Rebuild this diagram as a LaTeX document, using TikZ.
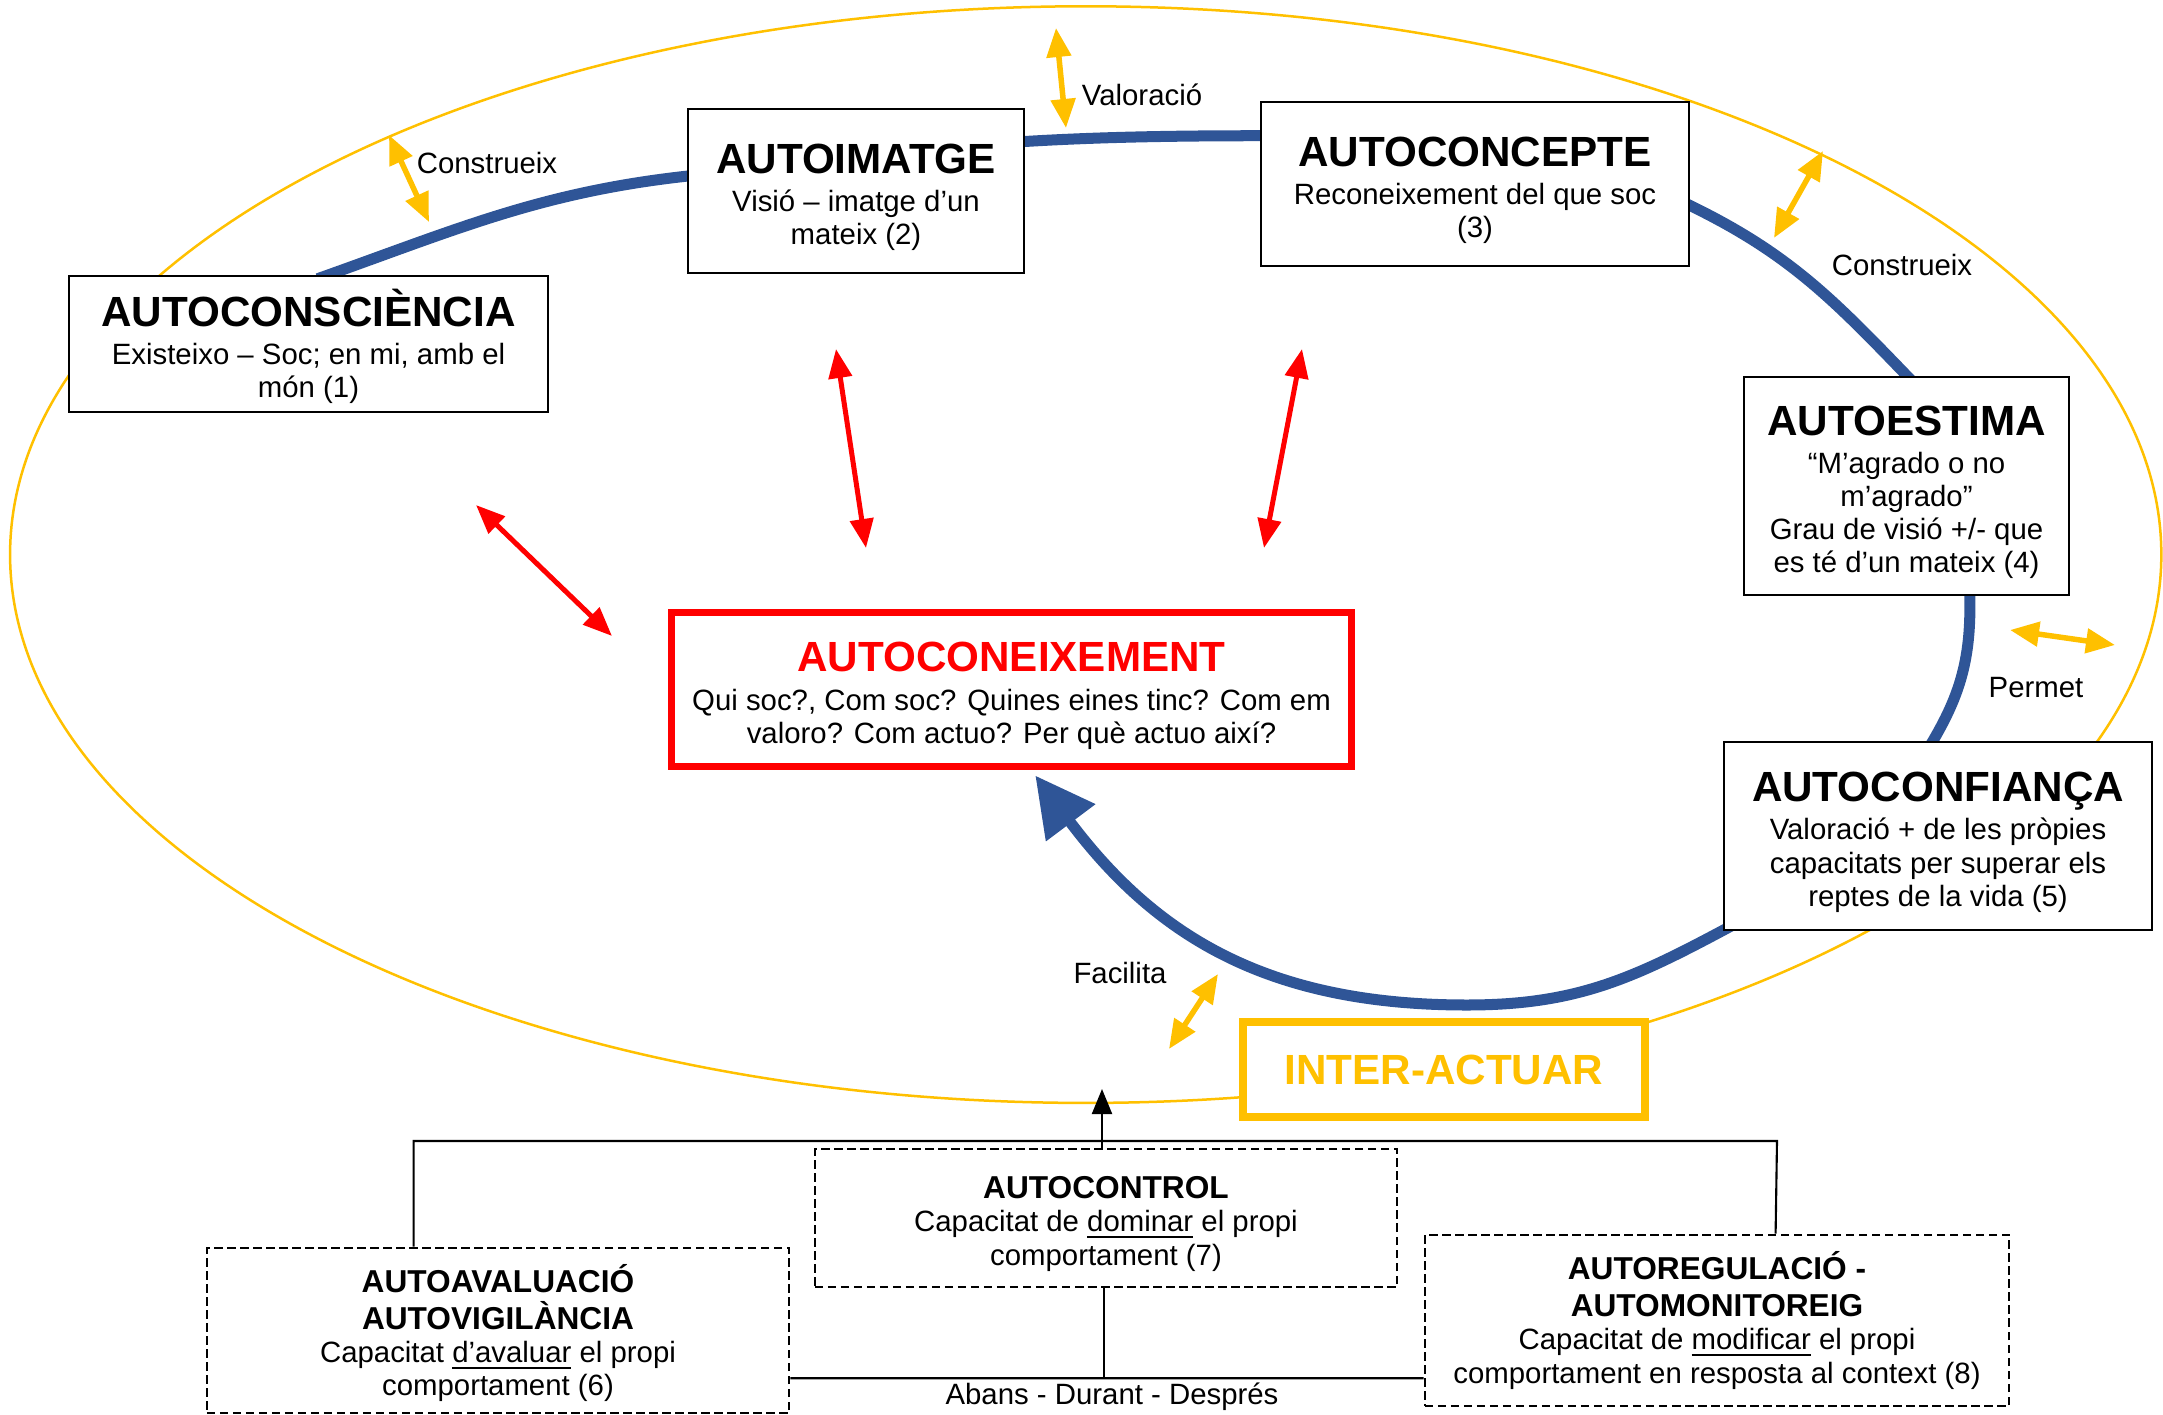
\documentclass[tikz,border=0pt]{standalone}
\usepackage{fontspec}
\setmainfont{Liberation Sans}
\usetikzlibrary{arrows.meta,calc}
\definecolor{loopblue}{HTML}{2F5597}
\definecolor{ringgold}{HTML}{FFC000}
\definecolor{keyred}{HTML}{FF0000}
\newcommand{\bodysize}{\fontsize{8.35}{9.45}\selectfont}
\newcommand{\ttlplain}[1]{{\fontsize{12}{12}\selectfont\bfseries #1}}
\newcommand{\ttl}[1]{{\fontsize{12}{12}\selectfont\bfseries\rule{0pt}{12pt}#1}}
\newcommand{\subttl}[1]{{\fontsize{9}{9}\selectfont\bfseries #1}}
\newcommand{\subttlup}[1]{{\fontsize{9}{9}\selectfont\bfseries\rule{0pt}{9.6pt}#1}}
\pgfdeclarelayer{back}
\pgfsetlayers{back,main}

\begin{document}
\begin{tikzpicture}[x=0.01cm,y=-0.01cm,
  box/.style={draw=black, line width=0.7pt, fill=white, inner sep=0pt, align=center, font=\bodysize},
  dbox/.style={box, dash pattern=on 0.085cm off 0.045cm},
  loopline/.style={draw=loopblue, line width=0.11cm},
  redarrow/.style={draw=keyred, fill=keyred, line width=0.05cm,
    {Triangle[length=0.29cm,width=0.23cm]}-{Triangle[length=0.29cm,width=0.23cm]}},
  goldarrow/.style={draw=ringgold, fill=ringgold, line width=0.055cm,
    {Triangle[length=0.29cm,width=0.24cm]}-{Triangle[length=0.29cm,width=0.24cm]}},
  conn/.style={draw=black, line width=0.6pt},
  lbl/.style={font=\bodysize, inner sep=0pt}
]
\useasboundingbox (0,0) rectangle (2163,1415);

% concept boxes
\node[box, minimum width=4.79cm, minimum height=1.36cm] (cons) at (308.5,344)
  {\ttl{AUTOCONSCIÈNCIA}\\[1.4pt] Existeixo – Soc; en mi, amb el\\ món (1)};
\node[box, minimum width=3.36cm, minimum height=1.64cm] (imat) at (856,191)
  {\ttl{AUTOIMATGE}\\[1.4pt] Visió – imatge d’un\\ mateix (2)};
\node[box, minimum width=4.28cm, minimum height=1.64cm] (conc) at (1475,184)
  {\ttl{AUTOCONCEPTE}\\[1.4pt] Reconeixement del que soc\\ (3)};
\node[box, minimum width=3.25cm, minimum height=2.18cm] (esti) at (1906.5,486)
  {\ttl{AUTOESTIMA}\\[1.4pt] “M’agrado o no\\ m’agrado”\\ Grau de visió +/- que\\ es té d’un mateix (4)};
\node[box, minimum width=4.28cm, minimum height=1.88cm] (conf) at (1938,836)
  {\ttl{AUTOCONFIANÇA}\\[1.4pt] Valoració + de les pròpies\\ capacitats per superar els\\ reptes de la vida (5)};
\node[box, draw=keyred, line width=0.07cm, minimum width=6.80cm, minimum height=1.54cm] (acon) at (1011.5,689.5)
  {\textcolor{keyred}{\ttl{AUTOCONEIXEMENT}}\\[1.4pt] Qui soc?, Com soc? Quines eines tinc? Com em\\ valoro? Com actuo? Per què actuo així?};
\node[box, draw=ringgold, line width=0.08cm, minimum width=4.02cm, minimum height=0.95cm] (inter) at (1444,1069.5)
  {\textcolor{ringgold}{\ttlplain{INTER-ACTUAR}}};

% dashed boxes
\node[dbox, minimum width=5.82cm, minimum height=1.38cm] (ctrl) at (1106,1218)
  {\subttlup{AUTOCONTROL}\\ Capacitat de \underline{dominar} el propi\\ comportament (7)};
\node[dbox, minimum width=5.82cm, minimum height=1.65cm] (aval) at (498,1330.5)
  {\subttlup{AUTOAVALUACIÓ}\\[1pt] \subttl{AUTOVIGILÀNCIA}\\ Capacitat \underline{d’avaluar} el propi\\ comportament (6)};
\node[dbox, minimum width=5.84cm, minimum height=1.71cm] (regu) at (1717,1320.5)
  {\subttl{AUTOREGULACIÓ -}\\[1pt] \subttl{AUTOMONITOREIG}\\ Capacitat de \underline{modificar} el propi\\ comportament en resposta al context (8)};

% outer ring and the blue loop
\coordinate (loopbottom) at (1467,1005);
\begin{pgfonlayer}{back}
\draw[ringgold, line width=0.025cm] (1085.7,554.6) ellipse [x radius=10.75cm, y radius=5.48cm];
\draw[loopline] ($(cons.north west)+(250,4)$) .. controls +(141,-50) and +(-149,16) .. ($(imat.north west)+(4,68)$);
\draw[loopline] ($(imat.north east)+(-4,34)$) .. controls +(80,-5) and +(-80,0) .. ($(conc.north west)+(4,35)$);
\draw[loopline] ($(conc.north east)+(-4,103)$) .. controls +(102,49) and +(-78,-81) .. ($(esti.north west)+(168,4)$);
\draw[loopline] ($(esti.south west)+(227,-4)$) .. controls +(2,65) and +(30,-50) .. ($(conf.north west)+(208,4)$);
\draw[loopline, -{Triangle[length=0.59cm,width=0.59cm]}] ($(conf.south west)+(8,-5)$)
  .. controls +(-97,52) and +(110,0) .. (loopbottom)
  .. controls +(-200,0) and +(120,160) .. ($(acon.south west)+(367.5,5.5)$);
\end{pgfonlayer}

% red links towards self-knowledge
\coordinate (r1a) at (476,505);  \coordinate (r1b) at (612,636);
\coordinate (r2a) at (836,349);  \coordinate (r2b) at (866,548);
\coordinate (r3a) at (1302,349); \coordinate (r3b) at (1264,548);
\draw[redarrow] (r1a) -- (r1b);
\draw[redarrow] (r2a) -- (r2b);
\draw[redarrow] (r3a) -- (r3b);

% gold links between ring and loop
\coordinate (y1a) at (389,135);  \coordinate (y1b) at (429,222);
\coordinate (y2a) at (1056,28);  \coordinate (y2b) at (1066,128);
\coordinate (y3a) at (1823,151); \coordinate (y3b) at (1774,238);
\coordinate (y4a) at (2010,630); \coordinate (y4b) at (2115,645);
\coordinate (y5a) at (1218,974); \coordinate (y5b) at (1169,1049);
\draw[goldarrow] (y1a) -- (y1b);
\draw[goldarrow] (y2a) -- (y2b);
\draw[goldarrow] (y3a) -- (y3b);
\draw[goldarrow] (y4a) -- (y4b);
\draw[goldarrow] (y5a) -- (y5b);

% link labels
\node[lbl] (l1) at (487,163) {Construeix};
\node[lbl] (l2) at (1142,95) {Valoració};
\node[lbl] (l3) at (1902,265) {Construeix};
\node[lbl] (l4) at (2036,688) {Permet};
\node[lbl] (l5) at (1120,973) {Facilita};

% bottom connectors
\coordinate (ctip) at (1102,1089);
\draw[conn] ($(aval.north west)+(208,0)$) |- (1777,1141) -- ($(regu.north west)+(352,0)$);
\draw[conn, -{Triangle[length=0.25cm,width=0.2cm]}] ($(ctrl.north)+(-4,0)$) -- (ctip);
\draw[conn] ($(aval.south east)+(0,-36)$) -- ($(regu.south west)+(0,-29)$);
\draw[conn] ($(ctrl.south)+(-2,0)$) -- ++(0,89);
\node[lbl] (phase) at (1112,1397) {Abans - Durant - Després};
\end{tikzpicture}
\end{document}
